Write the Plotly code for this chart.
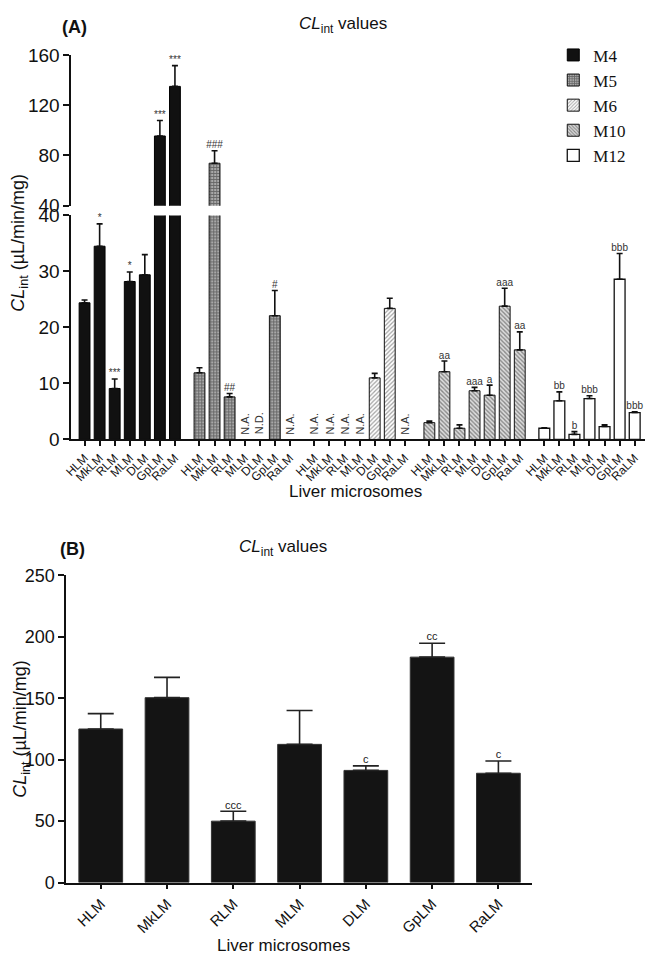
import plotly.graph_objects as go

W, H = 656, 965

# ---------------- data: panel A ----------------
microsomes = ["HLM", "MkLM", "RLM", "MLM", "DLM", "GpLM", "RaLM"]
metabolites = ["M4", "M5", "M6", "M10", "M12"]

m4_vals = [24.4, 34.5, 9.1, 28.2, 29.4, 95.5, 135.0]
m4_err = [0.5, 4.0, 1.7, 1.7, 3.6, 12.3, 16.5]
m4_sig = ["", "*", "***", "*", "", "***", "***"]

m5_vals = [11.9, 73.8, 7.6, None, None, 22.1, None]
m5_err = [0.9, 9.9, 0.6, 0, 0, 4.5, 0]
m5_sig = ["", "###", "##", "", "", "#", ""]
m5_na = ["", "", "", "N.A.", "N.D.", "", "N.A."]

m6_vals = [None, None, None, None, 11.0, 23.4, None]
m6_err = [0, 0, 0, 0, 0.8, 1.8, 0]
m6_sig = ["", "", "", "", "", "", ""]
m6_na = ["N.A.", "N.A.", "N.A.", "N.A.", "", "", "N.A."]

m10_vals = [3.0, 12.1, 2.0, 8.7, 7.9, 23.8, 16.0]
m10_err = [0.3, 1.9, 0.6, 0.6, 1.8, 3.2, 3.2]
m10_sig = ["", "aa", "", "aaa", "a", "aaa", "aa"]

m12_vals = [2.0, 6.9, 0.9, 7.3, 2.3, 28.6, 4.8]
m12_err = [0.1, 1.6, 0.5, 0.5, 0.3, 4.6, 0.15]
m12_sig = ["", "bb", "b", "bbb", "", "bbb", "bbb"]

# ---------------- data: panel B ----------------
b_vals = [125.0, 150.5, 50.0, 112.5, 91.3, 183.5, 89.0]
b_err = [12.5, 16.5, 8.0, 27.5, 3.7, 11.3, 10.0]
b_sig = ["", "", "ccc", "", "c", "cc", "c"]

# ---------------- styling ----------------
FONT = "Liberation Sans"
GROUP_STEP = 7.63
BAR_W = 0.72

series = [
    dict(name="M4", vals=m4_vals, err=m4_err, sig=m4_sig, na=[""] * 7,
         marker=dict(color="#111111", line=dict(color="#000000", width=1))),
    dict(name="M5", vals=m5_vals, err=m5_err, sig=m5_sig, na=m5_na,
         marker=dict(color="#9a9a9a", line=dict(color="#111111", width=1),
                     pattern=dict(shape="+", size=3, solidity=0.5,
                                  fgcolor="#222222", bgcolor="#a8a8a8"))),
    dict(name="M6", vals=m6_vals, err=m6_err, sig=m6_sig, na=m6_na,
         marker=dict(color="#ffffff", line=dict(color="#111111", width=1),
                     pattern=dict(shape="/", size=3, solidity=0.4,
                                  fgcolor="#444444", bgcolor="#ffffff"))),
    dict(name="M10", vals=m10_vals, err=m10_err, sig=m10_sig, na=[""] * 7,
         marker=dict(color="#ffffff", line=dict(color="#111111", width=1),
                     pattern=dict(shape="\\", size=3, solidity=0.45,
                                  fgcolor="#333333", bgcolor="#dddddd"))),
    dict(name="M12", vals=m12_vals, err=m12_err, sig=m12_sig, na=[""] * 7,
         marker=dict(color="#ffffff", line=dict(color="#111111", width=1.3))),
]

def px(x):
    return x / W

def py(y):
    return 1 - y / H

fig = go.Figure()
annotations = []

tickvals, ticktext = [], []
for g, s in enumerate(series):
    xs = [g * GROUP_STEP + i for i in range(len(microsomes))]
    tickvals += xs
    ticktext += microsomes
    errs = [e if v is not None else 0 for v, e in zip(s["vals"], s["err"])]
    for yax, show in (("y2", True), ("y", False)):
        fig.add_trace(go.Bar(
            x=xs, y=s["vals"], xaxis="x", yaxis=yax, width=BAR_W,
            name=s["name"], showlegend=show, legendgroup=s["name"],
            marker=s["marker"],
            error_y=dict(type="data", symmetric=False, array=errs,
                         arrayminus=[0] * len(errs), color="#111111",
                         thickness=1.6, width=3),
        ))
    lo_x, lo_y, lo_t, hi_x, hi_y, hi_t = [], [], [], [], [], []
    for x, v, e, t in zip(xs, s["vals"], errs, s["sig"]):
        if v is None or not t:
            continue
        top = v + e
        if top > 40:
            hi_x.append(x); hi_y.append(top); hi_t.append(t)
        else:
            lo_x.append(x); lo_y.append(top); lo_t.append(t)
    for xx, yy, tt, yax in ((lo_x, lo_y, lo_t, "y2"), (hi_x, hi_y, hi_t, "y")):
        if xx:
            fig.add_trace(go.Scatter(
                x=xx, y=yy, text=tt, mode="text", textposition="top center",
                xaxis="x", yaxis=yax, showlegend=False, cliponaxis=False,
                textfont=dict(family=FONT, size=10, color="#333333"),
                hoverinfo="skip"))
    for x, lab in zip(xs, s["na"]):
        if lab:
            annotations.append(dict(
                x=x, y=0, xref="x", yref="y2", text=lab, textangle=-90,
                showarrow=False, yanchor="bottom", xanchor="center", yshift=3,
                font=dict(family=FONT, size=11, color="#333333")))

fig.add_trace(go.Bar(
    x=microsomes, y=b_vals, xaxis="x2", yaxis="y3", width=0.66,
    showlegend=False, marker=dict(color="#141414", line=dict(color="#333333", width=1)),
    error_y=dict(type="data", symmetric=False, array=b_err,
                 arrayminus=[0] * len(b_err), color="#222222",
                 thickness=1.6, width=13),
))
sb = [(m, v + e, t) for m, v, e, t in zip(microsomes, b_vals, b_err, b_sig) if t]
fig.add_trace(go.Scatter(
    x=[a[0] for a in sb], y=[a[1] for a in sb], text=[a[2] for a in sb],
    mode="text", textposition="top center", xaxis="x2", yaxis="y3",
    showlegend=False, cliponaxis=False,
    textfont=dict(family=FONT, size=11, color="#222222"), hoverinfo="skip"))

axis_common = dict(showline=True, linecolor="#111111", linewidth=1.6,
                   ticks="outside", tickcolor="#111111", tickwidth=1.6,
                   showgrid=False, zeroline=False)

x_lo = -13.5 / 15.25
x_hi = (645 - 77.5) / 15.25

fig.update_layout(
    width=W, height=H, autosize=False,
    margin=dict(l=0, r=0, t=0, b=0),
    paper_bgcolor="white", plot_bgcolor="white",
    barmode="overlay",
    font=dict(family=FONT, color="#111111"),
    xaxis=dict(domain=[px(64), px(645)], anchor="y2", range=[x_lo, x_hi],
               tickmode="array", tickvals=tickvals, ticktext=ticktext,
               tickangle=-45, ticklen=5, tickfont=dict(size=12, family=FONT),
               **axis_common),
    yaxis=dict(domain=[py(200), py(46)], anchor="x", range=[40, 160],
               tickvals=[40, 80, 120, 160], ticklen=6,
               tickfont=dict(size=19, family=FONT), **axis_common),
    yaxis2=dict(domain=[py(439), py(210)], anchor="x", range=[0, 40],
                tickvals=[0, 10, 20, 30, 40], ticklen=6,
                tickfont=dict(size=19, family=FONT), **axis_common),
    xaxis2=dict(domain=[px(59), px(530)], anchor="y3", range=[-0.52, 6.5],
                tickangle=-45, ticklen=5, tickfont=dict(size=15, family=FONT),
                **axis_common),
    yaxis3=dict(domain=[py(892), py(578)], anchor="x2", range=[0, 250],
                tickvals=[0, 50, 100, 150, 200, 250], ticklen=6,
                tickfont=dict(size=18, family=FONT), **axis_common),
    legend=dict(x=px(552), y=py(28), xanchor="left", yanchor="top",
                font=dict(family="Liberation Serif", size=17, color="#111111"),
                bgcolor="rgba(0,0,0,0)", tracegroupgap=0, itemwidth=30),
    showlegend=True,
)

title_txt = "<i>CL</i><sub>int</sub> values"
ytitle_txt = "<i>CL</i><sub>int</sub> (µL/min/mg)"
annotations += [
    dict(x=px(67), y=py(17), text="<b>(A)</b>", font=dict(size=18)),
    dict(x=px(339), y=py(15), text=title_txt, font=dict(size=17)),
    dict(x=px(12), y=py(238), text=ytitle_txt, textangle=-90, font=dict(size=18)),
    dict(x=px(352), y=py(492), text="Liver microsomes", font=dict(size=17)),
    dict(x=px(65), y=py(551), text="<b>(B)</b>", font=dict(size=18)),
    dict(x=px(278), y=py(550), text=title_txt, font=dict(size=17)),
    dict(x=px(13), y=py(735), text=ytitle_txt, textangle=-90, font=dict(size=18)),
    dict(x=px(279), y=py(956), text="Liver microsomes", font=dict(size=17)),
]
for a in annotations[-8:]:
    a.update(xref="paper", yref="paper", showarrow=False,
             xanchor="center", yanchor="middle")
    a["font"].update(family=FONT, color="#111111")
fig.update_layout(annotations=annotations)

fig.write_html("out.html", config={"displayModeBar": False},
               post_script="document.body.style.margin='0';document.body.style.padding='0';")
